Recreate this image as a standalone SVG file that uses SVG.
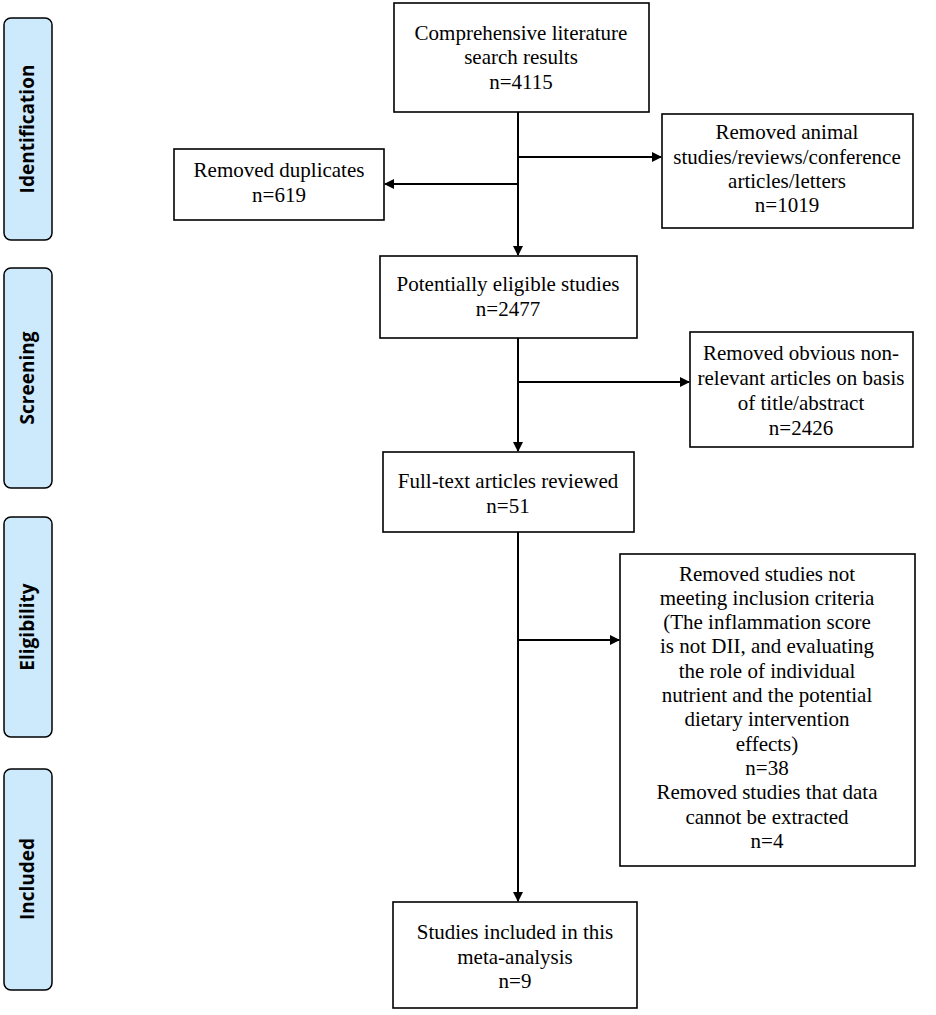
<svg xmlns="http://www.w3.org/2000/svg" width="936" height="1015" viewBox="0 0 936 1015">
<style>
.box{fill:#fff;stroke:#000;stroke-width:1.6}
.t{font-family:"Liberation Serif","Times New Roman",serif;font-size:21px;fill:#000;text-anchor:middle}
.phase{fill:#cdeafc;stroke:#000;stroke-width:1.5}
.pt{font-family:"Open Sans","Noto Sans",sans-serif;font-weight:bold;font-size:19px;fill:#000;text-anchor:middle}
.ln{stroke:#000;stroke-width:2;fill:none}
</style>
<defs>
<marker id="ah" markerWidth="10" markerHeight="10" refX="9" refY="5" orient="auto" markerUnits="userSpaceOnUse">
<path d="M0,0 L10,5 L0,10 Z" fill="#000"/>
</marker>
</defs>
<rect width="936" height="1015" fill="#fff"/>
<g id="phase-identification"><rect class="phase" x="4" y="18" width="48" height="222" rx="7"/><text class="pt" transform="translate(34,129) rotate(-90)">Identification</text></g>
<g id="phase-screening"><rect class="phase" x="4" y="268" width="48" height="220" rx="7"/><text class="pt" transform="translate(34,378) rotate(-90)">Screening</text></g>
<g id="phase-eligibility"><rect class="phase" x="4" y="517" width="48" height="220" rx="7"/><text class="pt" transform="translate(34,627) rotate(-90)">Eligibility</text></g>
<g id="phase-included"><rect class="phase" x="4" y="769" width="48" height="221" rx="7"/><text class="pt" transform="translate(34,879) rotate(-90)">Included</text></g>

<g id="connectors">
<line class="ln" x1="518" y1="112" x2="518" y2="255" marker-end="url(#ah)"/>
<line class="ln" x1="518" y1="157" x2="661" y2="157" marker-end="url(#ah)"/>
<line class="ln" x1="518" y1="184" x2="385" y2="184" marker-end="url(#ah)"/>
<line class="ln" x1="518" y1="338" x2="518" y2="451" marker-end="url(#ah)"/>
<line class="ln" x1="518" y1="382" x2="689" y2="382" marker-end="url(#ah)"/>
<line class="ln" x1="518" y1="532" x2="518" y2="901" marker-end="url(#ah)"/>
<line class="ln" x1="518" y1="640" x2="619" y2="640" marker-end="url(#ah)"/>
</g>

<g id="n-search"><rect class="box" x="394" y="3" width="255" height="109"/>
<text class="t" x="521" y="40">Comprehensive literature</text>
<text class="t" x="521" y="64">search results</text>
<text class="t" x="521" y="89">n=4115</text></g>

<g id="n-duplicates"><rect class="box" x="174" y="149" width="210" height="71"/>
<text class="t" x="279" y="177">Removed duplicates</text>
<text class="t" x="279" y="202">n=619</text></g>

<g id="n-animal"><rect class="box" x="662" y="114" width="251" height="114"/>
<text class="t" x="787" y="139">Removed animal</text>
<text class="t" x="787" y="164">studies/reviews/conference</text>
<text class="t" x="787" y="188">articles/letters</text>
<text class="t" x="787" y="212">n=1019</text></g>

<g id="n-eligible"><rect class="box" x="380" y="256" width="257" height="82"/>
<text class="t" x="508" y="291">Potentially eligible studies</text>
<text class="t" x="508" y="316">n=2477</text></g>

<g id="n-nonrelevant"><rect class="box" x="690" y="332" width="223" height="115"/>
<text class="t" x="801" y="360">Removed obvious non-</text>
<text class="t" x="801" y="385">relevant articles on basis</text>
<text class="t" x="801" y="410">of title/abstract</text>
<text class="t" x="801" y="435">n=2426</text></g>

<g id="n-fulltext"><rect class="box" x="383" y="452" width="251" height="80"/>
<text class="t" x="508" y="488">Full-text articles reviewed</text>
<text class="t" x="508" y="513">n=51</text></g>

<g id="n-excluded"><rect class="box" x="620" y="554" width="295" height="312"/>
<text class="t" x="767" y="581">Removed studies not</text>
<text class="t" x="767" y="605">meeting inclusion criteria</text>
<text class="t" x="767" y="629"> (The inflammation score</text>
<text class="t" x="767" y="653">is not DII, and evaluating</text>
<text class="t" x="767" y="678">the role of individual</text>
<text class="t" x="767" y="702">nutrient and the potential</text>
<text class="t" x="767" y="726">dietary intervention</text>
<text class="t" x="767" y="751">effects)</text>
<text class="t" x="767" y="775">n=38</text>
<text class="t" x="767" y="799">Removed studies that data</text>
<text class="t" x="767" y="824">cannot be extracted</text>
<text class="t" x="767" y="848">n=4</text></g>

<g id="n-included"><rect class="box" x="393" y="902" width="244" height="106"/>
<text class="t" x="515" y="939">Studies included in this</text>
<text class="t" x="515" y="964">meta-analysis</text>
<text class="t" x="515" y="988">n=9</text></g>
</svg>
